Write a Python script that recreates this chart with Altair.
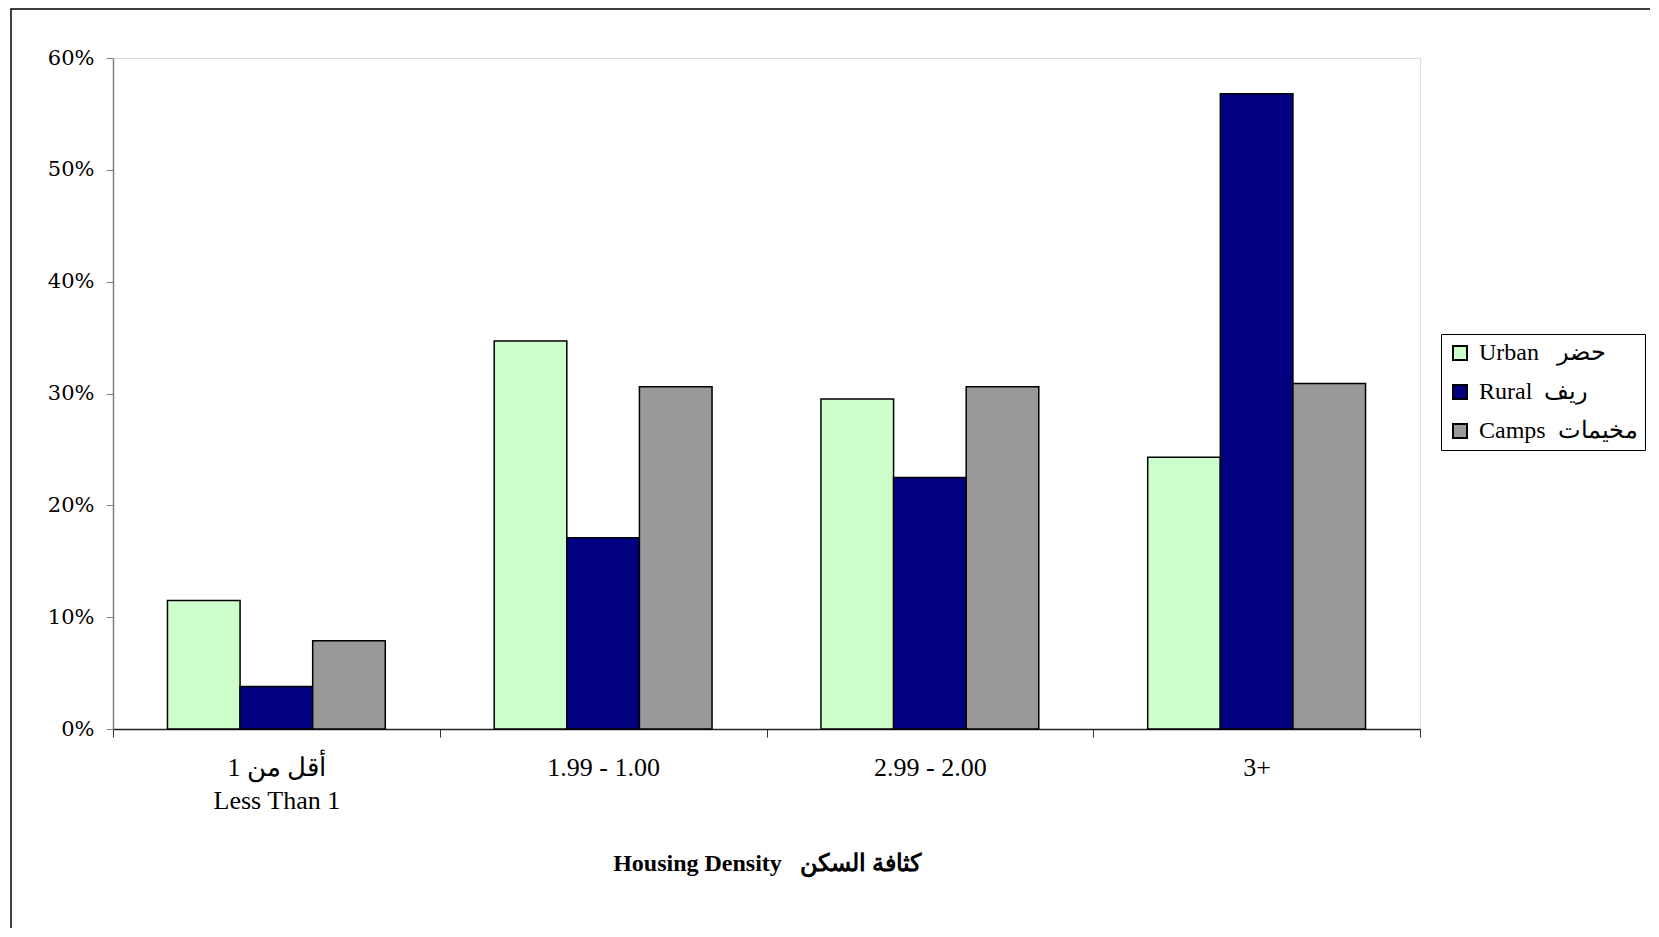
import altair as alt
import pandas as pd

NB = "\u00a0"
categories = ["أقل من 1|Less Than 1", "1.99 - 1.00", "2.99 - 2.00", "3+"]
series = ["Urban" + NB * 3 + "حضر", "Rural" + NB * 2 + "ريف", NB + "Camps" + NB * 2 + "مخيمات"]
colors = ["#CCFFCC", "#000080", "#999999"]
urban = [0.115, 0.347, 0.295, 0.243]
rural = [0.038, 0.171, 0.225, 0.568]
camps = [0.079, 0.306, 0.306, 0.309]
y_ticks = [0, 0.1, 0.2, 0.3, 0.4, 0.5, 0.6]
x_title = "Housing Density" + NB * 3 + "كثافة السكن"

rows = []
for s, vals in zip(series, [urban, rural, camps]):
    for c, v in zip(categories, vals):
        rows.append({"cat": c, "series": s, "value": v})
df = pd.DataFrame(rows)

W, H = 1307, 671

bars = alt.Chart(df).mark_bar(stroke="black", strokeWidth=1.5, opacity=1).encode(
    x=alt.X("cat:N", sort=categories,
            scale=alt.Scale(paddingInner=0, paddingOuter=0),
            axis=alt.Axis(title=x_title, labelAngle=0,
                          labelExpr="split(datum.label, '|')",
                          labelFont="Liberation Serif", labelFontSize=26,
                          labelColor="black", labelLineHeight=33,
                          labelPadding=17, tickSize=8, tickColor="#333333",
                          tickBand="extent", domainColor="#222222", domainWidth=1.5,
                          titleFont="Liberation Serif", titleFontSize=24,
                          titleFontWeight="bold", titleColor="black", titlePadding=38)),
    xOffset=alt.XOffset("series:N", sort=series,
                        scale=alt.Scale(paddingInner=0, paddingOuter=0.75)),
    y=alt.Y("value:Q", scale=alt.Scale(domain=[0, 0.6], nice=False),
            axis=alt.Axis(title=None, format=".0%", values=y_ticks, grid=False,
                          labelFont="DejaVu Serif", labelFontSize=21, labelColor="black",
                          labelPadding=12, tickSize=7, tickColor="#808080",
                          domainColor="#808080", domainWidth=1.5)),
    color=alt.Color("series:N", sort=series,
                    scale=alt.Scale(domain=series, range=colors),
                    legend=alt.Legend(title=None, orient="none", legendX=1328, legendY=276,
                                      symbolType="square", symbolSize=196,
                                      symbolStrokeColor="black", symbolStrokeWidth=2,
                                      symbolOpacity=1, labelOffset=7,
                                      labelFont="Liberation Serif", labelFontSize=24,
                                      labelColor="black", labelLimit=300,
                                      rowPadding=15, padding=7,
                                      strokeColor="black", fillColor="white")),
)

frame = alt.Chart(pd.DataFrame({"a": [0]})).mark_rect(
    fill=None, stroke="black", strokeWidth=1.5, clip=False
).encode(x=alt.value(-102), x2=alt.value(1700), y=alt.value(-49), y2=alt.value(1000))

chart = alt.layer(frame, bars).properties(
    width=W, height=H,
    autosize=alt.AutoSizeParams(type="none"),
    padding={"left": 105, "top": 50, "right": 230, "bottom": 199},
).configure_view(stroke="#707070", strokeWidth=1.5).configure(background="white")

chart.save("out.html", embed_options={"renderer": "svg", "actions": False})
